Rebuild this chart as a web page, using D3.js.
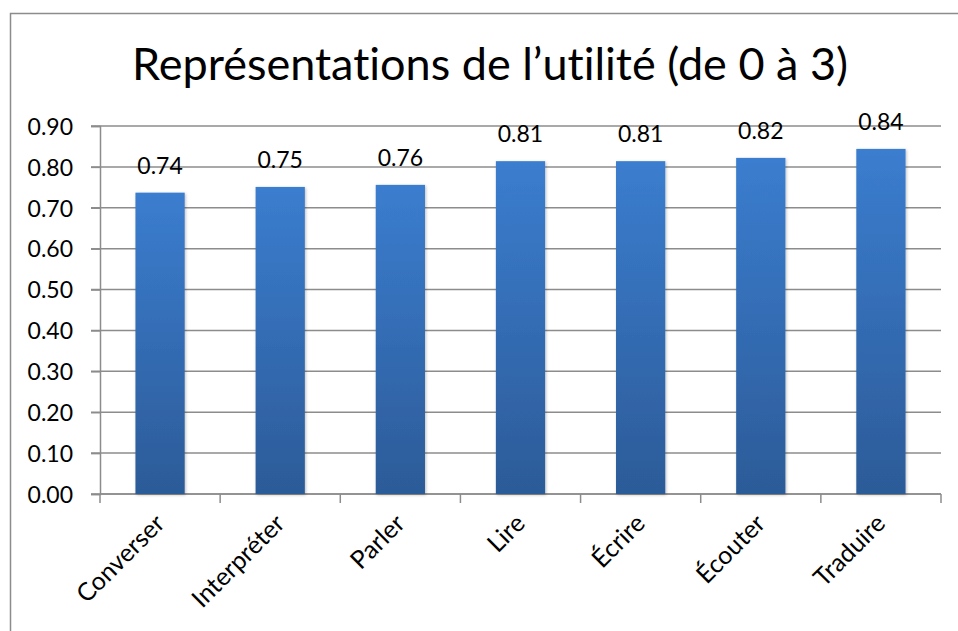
<!DOCTYPE html>
<html><head><meta charset="utf-8">
<script src="https://cdn.jsdelivr.net/npm/d3@7"></script>
<style>body{margin:0;background:#fff}svg{display:block}text{font-variant-ligatures:none;font-feature-settings:"liga" 0,"clig" 0}</style>
</head><body>
<svg id="c" width="958" height="631"></svg>
<script>
const categories = ["Converser","Interpréter","Parler","Lire","Écrire","Écouter","Traduire"];
const values = [0.737, 0.751, 0.756, 0.814, 0.814, 0.822, 0.844];
const yTicks = [0,0.1,0.2,0.3,0.4,0.5,0.6,0.7,0.8,0.9];
const title = "Représentations de l’utilité (de 0 à 3)";

const svg = d3.select("#c");
const font = "Lato, 'Open Sans', sans-serif";
const grid = "#8c8c8c";
const m = {left:100, right:941, top:126, bottom:494};

svg.append("rect").attr("x",10.5).attr("y",13.5).attr("width",1000).attr("height",1000)
  .attr("fill","#fff").attr("stroke",grid).attr("stroke-width",1.5);

const defs = svg.append("defs");
const g = defs.append("linearGradient").attr("id","bg").attr("x1",0).attr("x2",0).attr("y1",0).attr("y2",1);
g.append("stop").attr("offset","0%").attr("stop-color","#3b7dcf");
g.append("stop").attr("offset","100%").attr("stop-color","#2c5b98");
const f = defs.append("filter").attr("id","sh").attr("x","-20%").attr("y","-20%").attr("width","140%").attr("height","140%");
f.append("feDropShadow").attr("dx",1).attr("dy",1).attr("stdDeviation",1.5).attr("flood-color","#000").attr("flood-opacity",0.25);

const x = d3.scaleBand().domain(categories).range([m.left,m.right]).paddingInner(0.59).paddingOuter(0.295);
const y = d3.scaleLinear().domain([0,0.9]).range([m.bottom,m.top]);

// gridlines
svg.append("g").selectAll("line").data(yTicks).join("line")
  .attr("x1",m.left-9).attr("x2",m.right).attr("y1",d=>y(d)).attr("y2",d=>y(d))
  .attr("stroke",grid).attr("stroke-width",1.5);

// y axis
const ya = svg.append("g").attr("transform",`translate(${m.left},0)`)
  .call(d3.axisLeft(y).tickValues(yTicks).tickFormat(d3.format(".2f")).tickSize(9).tickPadding(18));
ya.select(".domain").attr("stroke",grid).attr("stroke-width",1.5);
ya.selectAll(".tick line").attr("stroke",grid).attr("stroke-width",1.5);
ya.selectAll("text").attr("font-family",font).attr("font-size",23).attr("fill","#000").attr("dy","0.36em");

// x axis
const xa = svg.append("g").attr("transform",`translate(0,${m.bottom})`);
xa.append("line").attr("x1",m.left).attr("x2",m.right).attr("stroke",grid).attr("stroke-width",1.5);
const bounds = d3.range(categories.length+1).map(i=>m.left+i*(m.right-m.left)/categories.length);
xa.selectAll("line.t").data(bounds).join("line").attr("class","t")
  .attr("x1",d=>d).attr("x2",d=>d).attr("y1",0).attr("y2",9).attr("stroke",grid).attr("stroke-width",1.5);
xa.selectAll("text").data(categories).join("text")
  .attr("transform",d=>`translate(${x(d)+x.bandwidth()/2+6},${31}) rotate(-45)`)
  .attr("text-anchor","end").attr("font-family",font).attr("font-size",25).attr("fill","#000")
  .text(d=>d);

// bars
svg.append("g").selectAll("rect").data(categories).join("rect")
  .attr("x",d=>x(d)).attr("width",x.bandwidth())
  .attr("y",(d,i)=>y(values[i])).attr("height",(d,i)=>y(0)-y(values[i]))
  .attr("fill","url(#bg)").attr("filter","url(#sh)");

// value labels
svg.append("g").selectAll("text").data(categories).join("text")
  .attr("x",d=>x(d)+x.bandwidth()/2).attr("y",(d,i)=>y(values[i])-19)
  .attr("text-anchor","middle").attr("font-family",font).attr("font-size",23).attr("fill","#000")
  .text((d,i)=>values[i].toFixed(2));

// title
svg.append("text").attr("x",490).attr("y",80).attr("text-anchor","middle")
  .attr("font-family",font).attr("font-size",45).attr("fill","#000").text(title);
</script>
</body></html>
